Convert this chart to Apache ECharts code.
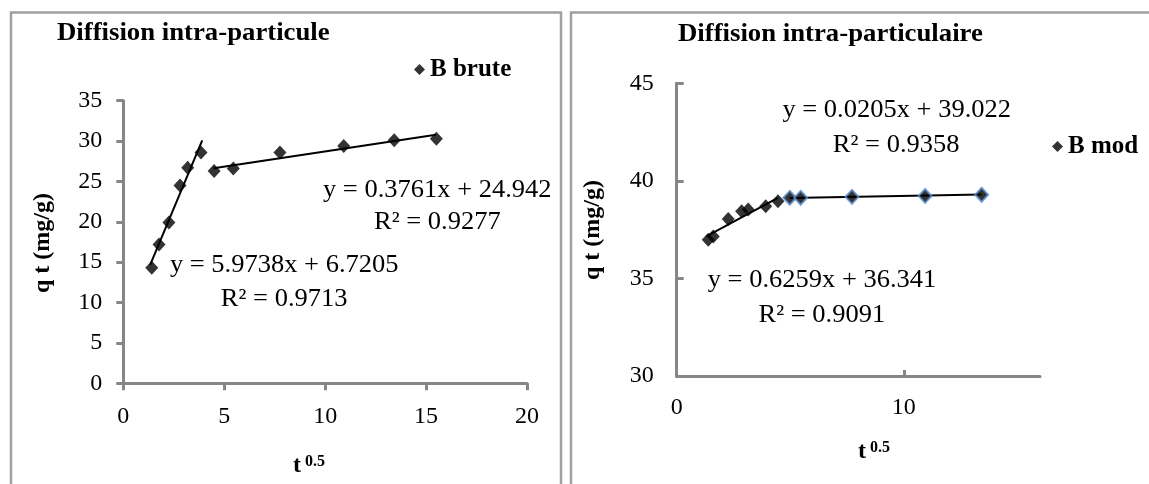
<!DOCTYPE html>
<html>
<head>
<meta charset="utf-8">
<script src="https://cdn.jsdelivr.net/npm/echarts@6/dist/echarts.min.js"></script>
<style>html,body{margin:0;padding:0;background:#fff}#c{width:1149px;height:484px}</style>
</head>
<body>
<div id="c"></div>
<script>
// ---- data ----
const leftTitle = 'Diffision intra-particule';
const rightTitle = 'Diffision intra-particulaire';
const leftSeriesName = 'B brute';
const rightSeriesName = 'B mod';
const leftX = [1.41, 1.77, 2.26, 2.81, 3.19, 3.85, 4.50, 5.45, 7.76, 10.92, 13.42, 15.51];
const leftY = [14.3, 17.2, 19.9, 24.5, 26.7, 28.6, 26.3, 26.6, 28.6, 29.4, 30.1, 30.3];
const rightX1 = [1.39, 1.61, 2.27, 2.86, 3.15, 3.92, 4.46];
const rightY1 = [36.98, 37.15, 38.05, 38.44, 38.53, 38.70, 38.95];
const rightX2 = [4.98, 5.46, 7.72, 10.94, 13.43];
const rightY2 = [39.13, 39.13, 39.18, 39.23, 39.29];
// trend line end points
const leftTrend1 = [[1.33, 14.67], [3.91, 30.08]];
const leftTrend2 = [[4.47, 26.62], [15.49, 30.77]];
const rightTrend1 = [[1.30, 37.15], [4.46, 39.13]];
const rightTrend2 = [[4.98, 39.12], [13.43, 39.30]];
// equation labels
const leftEq1 = ['y = 0.3761x + 24.942', 'R² = 0.9277'];
const leftEq2 = ['y = 5.9738x + 6.7205', 'R² = 0.9713'];
const rightEq1 = ['y = 0.0205x + 39.022', 'R² = 0.9358'];
const rightEq2 = ['y = 0.6259x + 36.341', 'R² = 0.9091'];
const yTitle = 'q t (mg/g)';
const xTitleBase = 't';
const xTitleExp = '0.5';
const leftXTicks = [0, 20, 5];   // min, max, interval
const leftYTicks = [0, 35, 5];
const rightXTicks = [0, 16, 10];
const rightYTicks = [30, 45, 5];

const pairs = (xs, ys) => xs.map((x, i) => [x, ys[i]]);
const SERIF = '"Liberation Serif", "Times New Roman", serif';
const AXC = '#868686';

function axisCommon(extra) {
  return Object.assign({
    type: 'value',
    splitLine: { show: false },
    axisLine: { show: true, onZero: false, lineStyle: { color: AXC, width: 3 } },
    axisTick: { show: true, length: 7, lineStyle: { color: AXC, width: 3 } },
    axisLabel: { color: '#000', fontFamily: SERIF, fontSize: 24, margin: 21 }
  }, extra);
}

const chart = echarts.init(document.getElementById('c'), null, { renderer: 'canvas' });

function txt(x, y, text, opts) {
  opts = opts || {};
  return {
    type: 'text', x: x, y: y, scaleX: opts.scaleX || 1, rotation: opts.rotation || 0, z: 10,
    style: {
      text: text, fill: '#000', fontFamily: SERIF,
      fontSize: opts.fontSize || 25, fontWeight: opts.bold ? 'bold' : 'normal',
      align: opts.align || 'center', verticalAlign: 'middle', rich: opts.rich
    }
  };
}

const xTitleRich = {
  t: { fontFamily: SERIF, fontSize: 24, fontWeight: 'bold', fill: '#000' },
  s: { fontFamily: SERIF, fontSize: 16, fontWeight: 'bold', fill: '#000', verticalAlign: 'top', padding: [0, 0, 8, 0] }
};

const option = {
  animation: false,
  backgroundColor: '#fff',
  grid: [
    { left: 123.3, top: 100.7, width: 403.7, height: 282.6 },
    { left: 676.7, top: 83.3, width: 363.3, height: 292.7 }
  ],
  xAxis: [
    axisCommon({ gridIndex: 0, min: leftXTicks[0], max: leftXTicks[1], interval: leftXTicks[2] }),
    axisCommon({ gridIndex: 1, min: rightXTicks[0], max: rightXTicks[1], interval: rightXTicks[2],
      axisTick: { show: true, inside: true, length: 6, customValues: [10], lineStyle: { color: AXC, width: 3 } },
      axisLabel: { color: '#000', fontFamily: SERIF, fontSize: 24, margin: 20, customValues: [0, 10] } })
  ],
  yAxis: [
    axisCommon({ gridIndex: 0, min: leftYTicks[0], max: leftYTicks[1], interval: leftYTicks[2] }),
    axisCommon({ gridIndex: 1, min: rightYTicks[0], max: rightYTicks[1], interval: rightYTicks[2],
      axisTick: { show: true, inside: true, length: 7, lineStyle: { color: AXC, width: 3 } },
      axisLabel: { color: '#000', fontFamily: SERIF, fontSize: 24, margin: 23 } })
  ],
  legend: [
    { data: [leftSeriesName], left: 414, top: 57, padding: 0, itemWidth: 11, itemHeight: 11, icon: 'diamond', itemGap: 4,
      textStyle: { fontFamily: SERIF, fontSize: 25, fontWeight: 'bold', color: '#000' } },
    { data: [rightSeriesName], left: 1052, top: 134, padding: 0, itemWidth: 11, itemHeight: 11, icon: 'diamond', itemGap: 4,
      textStyle: { fontFamily: SERIF, fontSize: 25, fontWeight: 'bold', color: '#000' } }
  ],
  series: [
    { type: 'line', xAxisIndex: 0, yAxisIndex: 0, data: leftTrend1, showSymbol: false, symbol: 'none', silent: true,
      lineStyle: { color: '#000', width: 2 }, z: 2 },
    { type: 'line', xAxisIndex: 0, yAxisIndex: 0, data: leftTrend2, showSymbol: false, symbol: 'none', silent: true,
      lineStyle: { color: '#000', width: 2 }, z: 2 },
    { name: leftSeriesName, type: 'scatter', xAxisIndex: 0, yAxisIndex: 0, data: pairs(leftX, leftY),
      symbol: 'diamond', symbolSize: [13, 14], itemStyle: { color: '#000' }, z: 5 },
    { type: 'line', xAxisIndex: 1, yAxisIndex: 1, data: rightTrend1, showSymbol: false, symbol: 'none', silent: true,
      lineStyle: { color: '#000', width: 2 }, z: 2 },
    { type: 'line', xAxisIndex: 1, yAxisIndex: 1, data: rightTrend2, showSymbol: false, symbol: 'none', silent: true,
      lineStyle: { color: '#000', width: 2 }, z: 2 },
    { name: rightSeriesName, type: 'scatter', xAxisIndex: 1, yAxisIndex: 1, data: pairs(rightX1, rightY1),
      symbol: 'diamond', symbolSize: [13, 14], itemStyle: { color: '#000' }, z: 5 },
    { name: rightSeriesName + ' (2)', type: 'scatter', xAxisIndex: 1, yAxisIndex: 1, data: pairs(rightX2, rightY2),
      symbol: 'diamond', symbolSize: [13, 14], itemStyle: { color: '#000', borderColor: '#5b8fd0', borderWidth: 2 }, z: 5 }
  ],
  graphic: [
    // frames
    { type: 'polyline', shape: { points: [[11, 484], [11, 12.5], [561, 12.5], [561, 484]] },
      style: { stroke: '#a0a0a0', lineWidth: 2.5, fill: null } },
    { type: 'polyline', shape: { points: [[571, 484], [571, 12.5], [1149, 12.5]] },
      style: { stroke: '#a0a0a0', lineWidth: 2.5, fill: null } },
    // titles
    txt(57, 34, leftTitle, { bold: true, align: 'left', scaleX: 1.07 }),
    txt(678, 35, rightTitle, { bold: true, align: 'left', scaleX: 1.07 }),
    // equations
    txt(437.3, 190, leftEq1[0], { scaleX: 1.06 }),
    txt(437.3, 222.5, leftEq1[1], { scaleX: 1.06 }),
    txt(284.2, 265, leftEq2[0], { scaleX: 1.06 }),
    txt(284.2, 299.5, leftEq2[1], { scaleX: 1.06 }),
    txt(896.7, 110, rightEq1[0], { scaleX: 1.06 }),
    txt(896.2, 145.5, rightEq1[1], { scaleX: 1.06 }),
    txt(822, 280, rightEq2[0], { scaleX: 1.06 }),
    txt(821.8, 315.5, rightEq2[1], { scaleX: 1.06 }),
    // axis titles
    txt(43, 243, yTitle, { bold: true, fontSize: 24, rotation: Math.PI / 2 }),
    txt(593, 230, yTitle, { bold: true, fontSize: 24, rotation: Math.PI / 2 }),
    txt(293, 466, '{t|' + xTitleBase + '}{s| ' + xTitleExp + '}', { align: 'left', rich: xTitleRich }),
    txt(858, 452, '{t|' + xTitleBase + '}{s| ' + xTitleExp + '}', { align: 'left', rich: xTitleRich })
  ]
};
chart.setOption(option);
</script>
</body>
</html>
